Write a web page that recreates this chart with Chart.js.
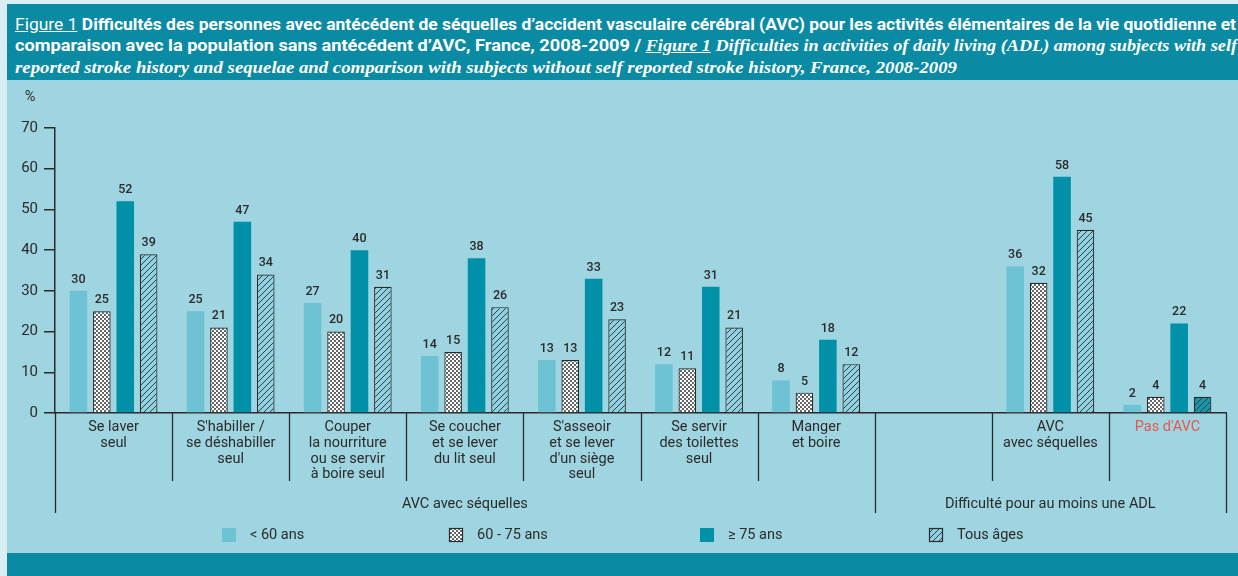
<!DOCTYPE html>
<html>
<head>
<meta charset="utf-8">
<script src="https://cdn.jsdelivr.net/npm/chart.js@4.4.1/dist/chart.umd.min.js"></script>
<style>
  html, body { margin:0; padding:0; }
  body { width:1238px; height:576px; position:relative; overflow:hidden; background:#D9EEF3; }
  #plotbg { position:absolute; left:7px; top:80px; width:1231px; height:473px; background:#9FD4E1; }
  #header { position:absolute; left:7px; top:4px; width:1231px; height:76px; background:#0A8BA3; color:#fff; overflow:hidden; }
  #footer { position:absolute; left:7px; top:553px; width:1231px; height:23px; background:#0A8BA3; }
  .tl { position:absolute; left:8px; white-space:nowrap; line-height:20px; transform-origin:0 50%; font-family:Roboto, "Liberation Sans", sans-serif; font-size:17px; }
  .tl b { font-weight:700; }
  .fig { font-weight:400; text-decoration:underline; }
  .en { font-family:"Liberation Serif", "DejaVu Serif", serif; font-style:italic; font-weight:700; font-size:17px; }
  #l1 { top:10px; } #l2 { top:31px; } #l3 { top:53px; }
  canvas { position:absolute; left:0; top:82px; }
</style>
</head>
<body>
<div id="plotbg"></div>
<div id="header">
  <div class="tl" id="l1"><span class="fig">Figure 1</span> <b>Difficultés des personnes avec antécédent de séquelles d’accident vasculaire cérébral (AVC) pour les activités élémentaires de la vie quotidienne et</b></div>
  <div class="tl" id="l2"><b>comparaison avec la population sans antécédent d’AVC, France, 2008-2009 / </b><span class="en"><u>Figure 1</u> Difficulties in activities of daily living (ADL) among subjects with self</span></div>
  <div class="tl" id="l3"><span class="en">reported stroke history and sequelae and comparison with subjects without self reported stroke history, France, 2008-2009</span></div>
</div>
<div id="footer"></div>
<canvas id="c" width="1238" height="471"></canvas>
<script>
// ---------------- DATA ----------------
const categories = [
  ["Se laver", "seul"],
  ["S'habiller /", "se déshabiller", "seul"],
  ["Couper", "la nourriture", "ou se servir", "à boire seul"],
  ["Se coucher", "et se lever", "du lit seul"],
  ["S'asseoir", "et se lever", "d'un siège", "seul"],
  ["Se servir", "des toilettes", "seul"],
  ["Manger", "et boire"],
  "",
  ["AVC", "avec séquelles"],
  "Pas d'AVC"
];
const seriesNames = ["< 60 ans", "60 - 75 ans", "≥ 75 ans", "Tous âges"];
const under60    = [30, 25, 27, 14, 13, 12,  8, null, 36,  2];
const from60to75 = [25, 21, 20, 15, 13, 11,  5, null, 32,  4];
const over75     = [52, 47, 40, 38, 33, 31, 18, null, 58, 22];
const allAges    = [39, 34, 31, 26, 23, 21, 12, null, 45,  4];
const groupLabels = ["AVC avec séquelles", "Difficulté pour au moins une ADL"];
const groupStarts = [0, 7];   // first category index of each group
const yTickValues = [0, 10, 20, 30, 40, 50, 60, 70];
const yUnit = "%";

// ---------------- STYLE ----------------
const FONT = 'Roboto, "Liberation Sans", sans-serif';
const TXT = '#2b2b2b';
function makeDots() {
  const c = document.createElement('canvas'); c.width = 4; c.height = 4;
  const g = c.getContext('2d');
  g.fillStyle = '#ffffff'; g.fillRect(0,0,4,4);
  g.fillStyle = '#1f1f1f';
  g.beginPath(); g.arc(1,1,0.9,0,Math.PI*2); g.fill();
  g.beginPath(); g.arc(3,3,0.9,0,Math.PI*2); g.fill();
  return g.createPattern(c, 'repeat');
}
function makeHatch(bg) {
  const s = 6;
  const c = document.createElement('canvas'); c.width = s; c.height = s;
  const g = c.getContext('2d');
  g.fillStyle = bg; g.fillRect(0,0,s,s);
  g.strokeStyle = '#24434d'; g.lineWidth = 1;
  g.beginPath();
  g.moveTo(-1, s+1); g.lineTo(s+1, -1);
  g.moveTo(-1, 1); g.lineTo(1, -1);
  g.moveTo(s-1, s+1); g.lineTo(s+1, s-1);
  g.stroke();
  return g.createPattern(c, 'repeat');
}
const dotPattern = makeDots();
const hatchLight = makeHatch('#93D0DE');
const hatchDark = makeHatch('#1B93A9');
const seriesFills = ['#6DC3D3', dotPattern, '#0090A8', hatchLight];

const overlay = {
  id: 'overlay',
  afterDraw(chart) {
    const ctx = chart.ctx;
    const xs = chart.scales.x, ys = chart.scales.y;
    const n = categories.length;
    const w = (xs.right - xs.left) / n;
    const base = ys.getPixelForValue(0);
    ctx.save();
    // separators
    ctx.strokeStyle = TXT; ctx.lineWidth = 1.3;
    for (let i = 0; i <= n; i++) {
      const x = i < n ? xs.getPixelForValue(i) - w/2 : xs.getPixelForValue(n-1) + w/2;
      const long = (i === 0 || i === n || groupStarts.includes(i));
      ctx.beginPath(); ctx.moveTo(Math.round(x)+0.5, base); ctx.lineTo(Math.round(x)+0.5, base + (long ? 100 : 68)); ctx.stroke();
    }
    // group labels
    ctx.fillStyle = TXT; ctx.font = '14.5px ' + FONT; ctx.textAlign = 'center'; ctx.textBaseline = 'middle';
    groupLabels.forEach((lab, g) => {
      const a = groupStarts[g], b = (g + 1 < groupStarts.length ? groupStarts[g+1] : n) - 1;
      const x0 = xs.getPixelForValue(a) - w/2, x1 = xs.getPixelForValue(b) + w/2;
      ctx.fillText(lab, (x0 + x1)/2, base + 91);
    });
    // value labels
    ctx.font = '500 12.5px ' + FONT; ctx.textBaseline = 'bottom';
    chart.data.datasets.forEach((ds, di) => {
      const meta = chart.getDatasetMeta(di);
      meta.data.forEach((el, i) => {
        const v = ds.data[i];
        if (v === null || v === undefined) return;
        ctx.fillText(String(v), el.x, el.y - 5);
      });
    });
    // unit
    ctx.font = '14.5px ' + FONT; ctx.textAlign = 'center'; ctx.textBaseline = 'middle';
    ctx.fillText(yUnit, 30, ys.top - 31);
    // legend
    const lx = [222, 449, 700, 929];
    const ly = 453;
    ctx.textAlign = 'left'; ctx.font = '14.5px ' + FONT;
    chart.data.datasets.forEach((ds, di) => {
      const fill = seriesFills[di];
      ctx.fillStyle = fill;
      ctx.fillRect(lx[di], ly - 7, 14, 14);
      if (di === 1 || di === 3) { ctx.strokeStyle = TXT; ctx.lineWidth = 1.2; ctx.strokeRect(lx[di]+0.5, ly - 6.5, 13, 13); }
      ctx.fillStyle = TXT;
      ctx.fillText(ds.label, lx[di] + 28, ly);
    });
    ctx.restore();
  }
};

new Chart(document.getElementById('c'), {
  type: 'bar',
  data: {
    labels: categories,
    datasets: [
      { label: seriesNames[0], data: under60, backgroundColor: seriesFills[0], borderWidth: 0 },
      { label: seriesNames[1], data: from60to75, backgroundColor: seriesFills[1], borderColor: '#2a2a2a', borderWidth: 1.2 },
      { label: seriesNames[2], data: over75, backgroundColor: seriesFills[2], borderWidth: 0 },
      { label: seriesNames[3], data: allAges, backgroundColor: (c) => c.dataIndex === 9 ? hatchDark : hatchLight, borderColor: '#2a2a2a', borderWidth: 1.2 }
    ]
  },
  options: {
    responsive: false, animation: false,
    layout: { padding: { top: 46, right: 12, left: 0, bottom: 0 } },
    datasets: { bar: { categoryPercentage: 0.8, barPercentage: 0.75 } },
    scales: {
      x: {
        grid: { display: false },
        border: { display: true, color: TXT, width: 1.5 },
        ticks: { autoSkip: false, maxRotation: 0, minRotation: 0, padding: -2,
          color: (c) => c.index === 9 ? '#E8574E' : TXT,
          font: { family: FONT, size: 14.5, lineHeight: 1.1 } },
        afterFit(s) { s.height = 140; }
      },
      y: {
        min: 0, max: 70,
        afterBuildTicks(s) { s.ticks = yTickValues.map(v => ({ value: v })); },
        ticks: { padding: 6, color: TXT, font: { family: FONT, size: 15 } },
        grid: { drawOnChartArea: false, drawTicks: true, tickLength: 11, color: TXT, lineWidth: 1.5 },
        border: { display: true, color: TXT, width: 1.5 },
        afterFit(s) { s.width = 55; }
      }
    },
    plugins: { legend: { display: false }, tooltip: { enabled: false } }
  },
  plugins: [overlay]
});

// fit title lines to reference widths
function fitTitle() {
  const targets = { l1: 1221, l2: 1222, l3: 942 };
  for (const id in targets) {
    const el = document.getElementById(id);
    el.style.transform = 'none';
    const wpx = el.getBoundingClientRect().width;
    el.style.transform = 'scaleX(' + (targets[id] / wpx) + ')';
  }
}
fitTitle();
if (document.fonts && document.fonts.ready) document.fonts.ready.then(fitTitle);
</script>
</body>
</html>
